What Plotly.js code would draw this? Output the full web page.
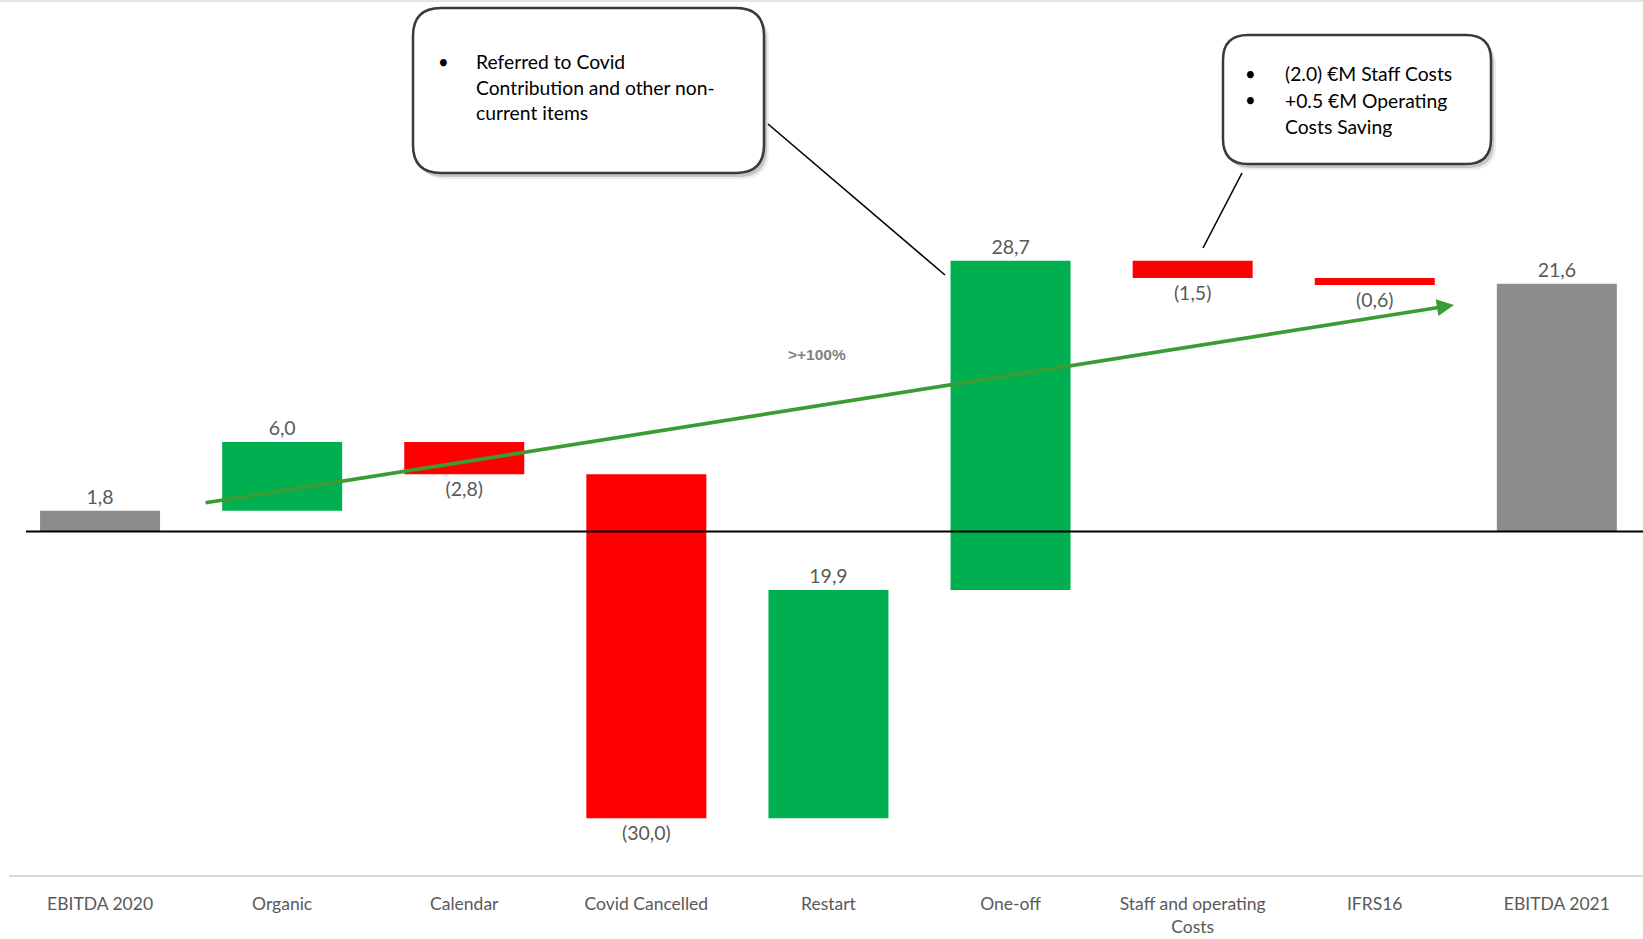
<!DOCTYPE html>
<html>
<head>
<meta charset="utf-8">
<script src="https://cdn.plot.ly/plotly-3.0.1.min.js"></script>
<style>
  html, body { margin: 0; padding: 0; background: #ffffff; }
  #chart { width: 1643px; height: 939px; }
</style>
</head>
<body>
<div id="chart"></div>
<script>
// ---- data ----
const categories = ["EBITDA 2020", "Organic", "Calendar", "Covid Cancelled", "Restart", "One-off", "Staff and operating Costs", "IFRS16", "EBITDA 2021"];
const tickLabels = ["EBITDA 2020", "Organic", "Calendar", "Covid Cancelled", "Restart", "One-off", "Staff and operating<br>Costs", "IFRS16", "EBITDA 2021"];
const values = [1.8, 6.0, -2.8, -30.0, 19.9, 28.7, -1.5, -0.6, 21.6];
const measures = ["absolute", "relative", "relative", "relative", "relative", "relative", "relative", "relative", "absolute"];
const trendLabel = ">+100%";
const note1Lines = ["Referred to Covid", "Contribution and other non-", "current items"];
const note2Lines = ["(2.0) €M Staff Costs", "+0.5 €M Operating", "Costs Saving"];

function fmt(v) {
  const s = Math.abs(v).toFixed(1).replace(".", ",");
  return v < 0 ? "(" + s + ")" : s;
}
const barText = values.map(fmt);

// ---- geometry helpers (pixel -> paper) ----
const L = 9, W = 1634, PH = 875;
function X(px) { return (px - L) / W; }
function Y(py) { return (PH - py) / PH; }
function roundRect(x0, y0, x1, y1, r) {
  return "M" + X(x0 + r) + "," + Y(y0) +
    " L" + X(x1 - r) + "," + Y(y0) +
    " Q" + X(x1) + "," + Y(y0) + " " + X(x1) + "," + Y(y0 + r) +
    " L" + X(x1) + "," + Y(y1 - r) +
    " Q" + X(x1) + "," + Y(y1) + " " + X(x1 - r) + "," + Y(y1) +
    " L" + X(x0 + r) + "," + Y(y1) +
    " Q" + X(x0) + "," + Y(y1) + " " + X(x0) + "," + Y(y1 - r) +
    " L" + X(x0) + "," + Y(y0 + r) +
    " Q" + X(x0) + "," + Y(y0) + " " + X(x0 + r) + "," + Y(y0) + " Z";
}
function calloutShapes(x0, y0, x1, y1, r) {
  return [
    { type: "path", xref: "paper", yref: "paper", path: roundRect(x0 + 5, y0 + 6, x1 + 5, y1 + 6, r), fillcolor: "rgba(0,0,0,0.07)", line: { width: 0 }, layer: "above" },
    { type: "path", xref: "paper", yref: "paper", path: roundRect(x0 + 3, y0 + 4, x1 + 3, y1 + 4, r), fillcolor: "rgba(0,0,0,0.16)", line: { width: 0 }, layer: "above" },
    { type: "path", xref: "paper", yref: "paper", path: roundRect(x0, y0, x1, y1, r), fillcolor: "#ffffff", line: { color: "#3a3a3a", width: 2.5 }, layer: "above" }
  ];
}

const FONT = "Lato, 'Open Sans', 'Noto Sans', sans-serif";

const trace = {
  type: "waterfall",
  x: categories,
  y: values,
  measure: measures,
  text: barText,
  textinfo: "text",
  textposition: "outside",
  cliponaxis: false,
  constraintext: "none",
  textfont: { family: FONT, size: 19.5, color: "#595959" },
  increasing: { marker: { color: "#00B050", line: { width: 0 } } },
  decreasing: { marker: { color: "#FF0000", line: { width: 0 } } },
  totals: { marker: { color: "#8C8C8C", line: { width: 0 } } },
  connector: { visible: false },
  hoverinfo: "skip"
};

const shapes = [
  // faint top rule
  { type: "line", xref: "paper", yref: "paper", x0: X(0), x1: 1, y0: Y(1), y1: Y(1), line: { color: "#E4E4E4", width: 2 } },
  // zero line
  { type: "line", xref: "paper", yref: "y", x0: X(26), x1: 1, y0: 0, y1: 0, line: { color: "#000000", width: 2 }, layer: "above" },
  // connector lines
  { type: "line", xref: "paper", yref: "paper", x0: X(768), y0: Y(124), x1: X(945), y1: Y(275), line: { color: "#000000", width: 1.6 }, layer: "above" },
  { type: "line", xref: "paper", yref: "paper", x0: X(1242), y0: Y(173), x1: X(1203), y1: Y(248), line: { color: "#000000", width: 1.6 }, layer: "above" }
].concat(calloutShapes(413, 8, 764, 173, 28)).concat(calloutShapes(1223, 35, 1491, 164, 25));

const annotations = [
  // trend arrow
  { x: 7.435, y: 19.75, ax: 0.571, ay: 2.48, xref: "x", yref: "y", axref: "x", ayref: "y",
    showarrow: true, arrowhead: 2, arrowsize: 0.95, arrowwidth: 3.6, arrowcolor: "#3A9C35", text: "" },
  { x: 3.937, y: 15.39, xref: "x", yref: "y", text: "<b>" + trendLabel + "</b>", showarrow: false,
    font: { family: "'Liberation Sans', Arial, sans-serif", size: 15.5, color: "#7F7F7F", weight: 700 } }
];
// callout 1 text
const n1y = [62, 87, 113];
note1Lines.forEach((t, i) => {
  annotations.push({ xref: "paper", yref: "paper", x: X(474), y: Y(n1y[i]), xanchor: "left", yanchor: "middle",
    text: t, showarrow: false, font: { family: FONT, size: 19.3, color: "#000000" } });
});
annotations.push({ xref: "paper", yref: "paper", x: X(443), y: Y(n1y[0]), xanchor: "center", yanchor: "middle",
  text: "•", showarrow: false, font: { family: FONT, size: 18.5, color: "#000000" } });
// callout 2 text
const n2y = [74, 100, 126];
note2Lines.forEach((t, i) => {
  annotations.push({ xref: "paper", yref: "paper", x: X(1283), y: Y(n2y[i]), xanchor: "left", yanchor: "middle",
    text: t, showarrow: false, font: { family: FONT, size: 19.3, color: "#000000" } });
});
[0, 1].forEach(i => {
  annotations.push({ xref: "paper", yref: "paper", x: X(1250), y: Y(n2y[i]), xanchor: "center", yanchor: "middle",
    text: "•", showarrow: false, font: { family: FONT, size: 18.5, color: "#000000" } });
});

const layout = {
  width: 1643, height: 939,
  margin: { l: L, r: 0, t: 0, b: 939 - PH, pad: 0 },
  paper_bgcolor: "#ffffff", plot_bgcolor: "#ffffff",
  showlegend: false,
  waterfallgap: 0.341,
  font: { family: FONT, color: "#595959" },
  xaxis: {
    type: "category",
    range: [-0.5, -0.5 + W / 182.1],
    tickmode: "array", tickvals: categories, ticktext: tickLabels,
    showgrid: false, zeroline: false,
    showline: true, linecolor: "#D9D9D9", linewidth: 2,
    ticks: "outside", ticklen: 12, tickcolor: "rgba(0,0,0,0)",
    tickfont: { family: FONT, size: 17.5, color: "#595959" },
    fixedrange: true
  },
  yaxis: {
    range: [-(PH - 531.5) / 11.47, 531.5 / 11.47],
    showgrid: false, zeroline: false, showticklabels: false, showline: false, ticks: "",
    fixedrange: true
  },
  shapes: shapes,
  annotations: annotations
};

Plotly.newPlot("chart", [trace], layout, { displayModeBar: false, staticPlot: true });
</script>
</body>
</html>
